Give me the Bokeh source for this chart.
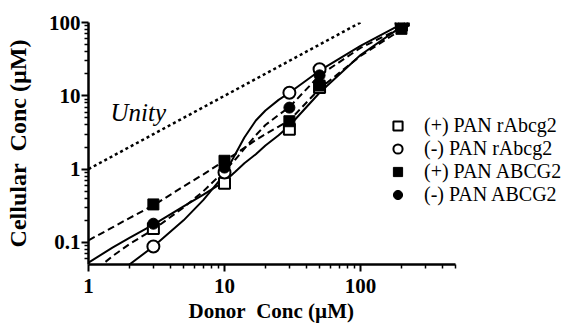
from bokeh.plotting import figure
from bokeh.models import (Range1d, FixedTicker, CustomJSTickFormatter, Legend,
                          LegendItem, Label, Title)
from bokeh.embed import file_html
from bokeh.resources import INLINE

# measured data points (donor concentration, µM)
conc = [3, 10, 30, 50, 200]
plus_rabcg2 = [0.155, 0.64, 3.5, 13, 92]
minus_rabcg2 = [0.088, 0.9, 11, 23, 97]
plus_abcg2 = [0.33, 1.3, 4.5, 13.8, 82]
minus_abcg2 = [0.18, 1.05, 6.9, 19, 88]

# fitted curves
fit_conc = [1, 1.5, 2, 3, 5, 7, 10, 12, 14, 17, 20, 25, 30, 50, 100, 200, 230]
fit_plus_rabcg2 = [0.053, 0.085, 0.115, 0.175, 0.31, 0.45, 0.68, 0.92, 1.2, 1.6, 2.1, 2.9, 3.9, 11, 36, 88, 100]
fit_minus_rabcg2 = [0.02, 0.033, 0.05, 0.088, 0.2, 0.38, 0.85, 1.6, 2.7, 4.6, 6.3, 8.8, 11, 22, 48, 95, 108]
fit_plus_abcg2 = [0.107, 0.16, 0.215, 0.32, 0.58, 0.85, 1.3, 1.6, 1.95, 2.5, 3.0, 3.8, 4.6, 12.5, 35, 80, 92]
fit_minus_abcg2 = [0.035, 0.065, 0.095, 0.15, 0.3, 0.5, 0.95, 1.35, 1.9, 2.9, 4.0, 5.5, 7, 19, 45, 85, 95]

unity = [1, 100]

x_major = [1, 10, 100]
x_minor = [2, 3, 4, 5, 6, 7, 8, 9, 20, 30, 40, 50, 60, 70, 80, 90, 200, 300, 400, 500]
y_major = [0.1, 1, 10, 100]
y_minor = [0.06, 0.07, 0.08, 0.09, 0.2, 0.3, 0.4, 0.5, 0.6, 0.7, 0.8, 0.9,
           2, 3, 4, 5, 6, 7, 8, 9, 20, 30, 40, 50, 60, 70, 80, 90]

legend_labels = ["(+) PAN rAbcg2", "(-) PAN rAbcg2", "(+) PAN ABCG2", "(-) PAN ABCG2"]

SERIF = "Liberation Serif"
NB = "\u00a0"

# frame spans past the drawn axis so the legend (inside the frame) is not clipped;
# 136 px per decade on x, axis itself drawn only from 1 to 500
FRAME_W = 496
p = figure(frame_width=FRAME_W, frame_height=242,
           x_axis_type="log", y_axis_type="log",
           x_range=Range1d(1, 10 ** (FRAME_W / 136.0)), y_range=Range1d(0.05, 100),
           output_backend="svg", toolbar_location=None,
           min_border_left=88, min_border_right=2,
           min_border_top=22, min_border_bottom=61)
p.outline_line_color = None
p.grid.visible = False

fmt = CustomJSTickFormatter(code="return tick.toString();")
p.xaxis.ticker = FixedTicker(ticks=x_major, minor_ticks=x_minor)
p.yaxis.ticker = FixedTicker(ticks=y_major, minor_ticks=y_minor)
p.xaxis.bounds = (1, 500)
for ax in (p.xaxis[0], p.yaxis[0]):
    ax.formatter = fmt
    ax.axis_line_width = 2.5
    ax.major_tick_line_width = 2
    ax.minor_tick_line_width = 1.5
    ax.major_tick_out = 7
    ax.major_tick_in = 0
    ax.minor_tick_out = 4
    ax.minor_tick_in = 0
    ax.major_label_text_font = SERIF
    ax.major_label_text_font_style = "bold"
    ax.major_label_text_font_size = "21px"
    ax.major_label_text_color = "black"
    ax.axis_label_text_font = SERIF
    ax.axis_label_text_font_style = "bold"
    ax.axis_label_text_color = "black"
p.yaxis.axis_label_text_font_size = "24px"
p.yaxis.axis_label = "Cellular" + NB + " Conc (\u00b5M)"
p.xaxis.major_label_standoff = 7
p.yaxis.major_label_standoff = 1
p.yaxis.axis_label_standoff = 15

# x title placed under the drawn part of the axis
p.add_layout(Title(text="Donor" + NB + " Conc (\u00b5M)", align="left", offset=100,
                   text_font=SERIF, text_font_style="bold", text_font_size="21px",
                   text_color="black", standoff=2), "below")

# unity line
p.line(unity, unity, line_color="black", line_width=2.5, line_dash="3 3")
p.add_layout(Label(x=1.45, y=6.0, text="Unity", text_font=SERIF,
                   text_font_style="italic", text_font_size="25px",
                   text_baseline="alphabetic", text_color="black"))

# fits
p.line(fit_conc, fit_plus_rabcg2, line_color="black", line_width=2)
p.line(fit_conc, fit_minus_rabcg2, line_color="black", line_width=2)
p.line(fit_conc, fit_plus_abcg2, line_color="black", line_width=2, line_dash="7 4")
p.line(fit_conc, fit_minus_abcg2, line_color="black", line_width=2, line_dash="7 4")

# points
r1 = p.scatter(conc, plus_rabcg2, marker="square", size=11, fill_color="white",
               line_color="black", line_width=2)
r2 = p.scatter(conc, minus_rabcg2, marker="circle", size=12, fill_color="white",
               line_color="black", line_width=2)
r3 = p.scatter(conc, plus_abcg2, marker="square", size=11, fill_color="black",
               line_color="black", line_width=1)
r4 = p.scatter(conc, minus_abcg2, marker="circle", size=11, fill_color="black",
               line_color="black", line_width=1)

# one legend per entry so the rows can be placed individually
row_offsets = [127, 104, 81, 58]
for label, rend, vy in zip(legend_labels, [r1, r2, r3, r4], row_offsets):
    lg = Legend(items=[LegendItem(label=label, renderers=[rend])],
                location=(298, vy), label_text_font=SERIF, label_text_font_size="20px",
                label_text_color="black", glyph_width=23, glyph_height=23,
                label_height=20, spacing=0, padding=0, margin=0, label_standoff=15,
                border_line_color=None, background_fill_alpha=0)
    p.add_layout(lg)

open("out.html", "w").write(file_html(p, INLINE))
